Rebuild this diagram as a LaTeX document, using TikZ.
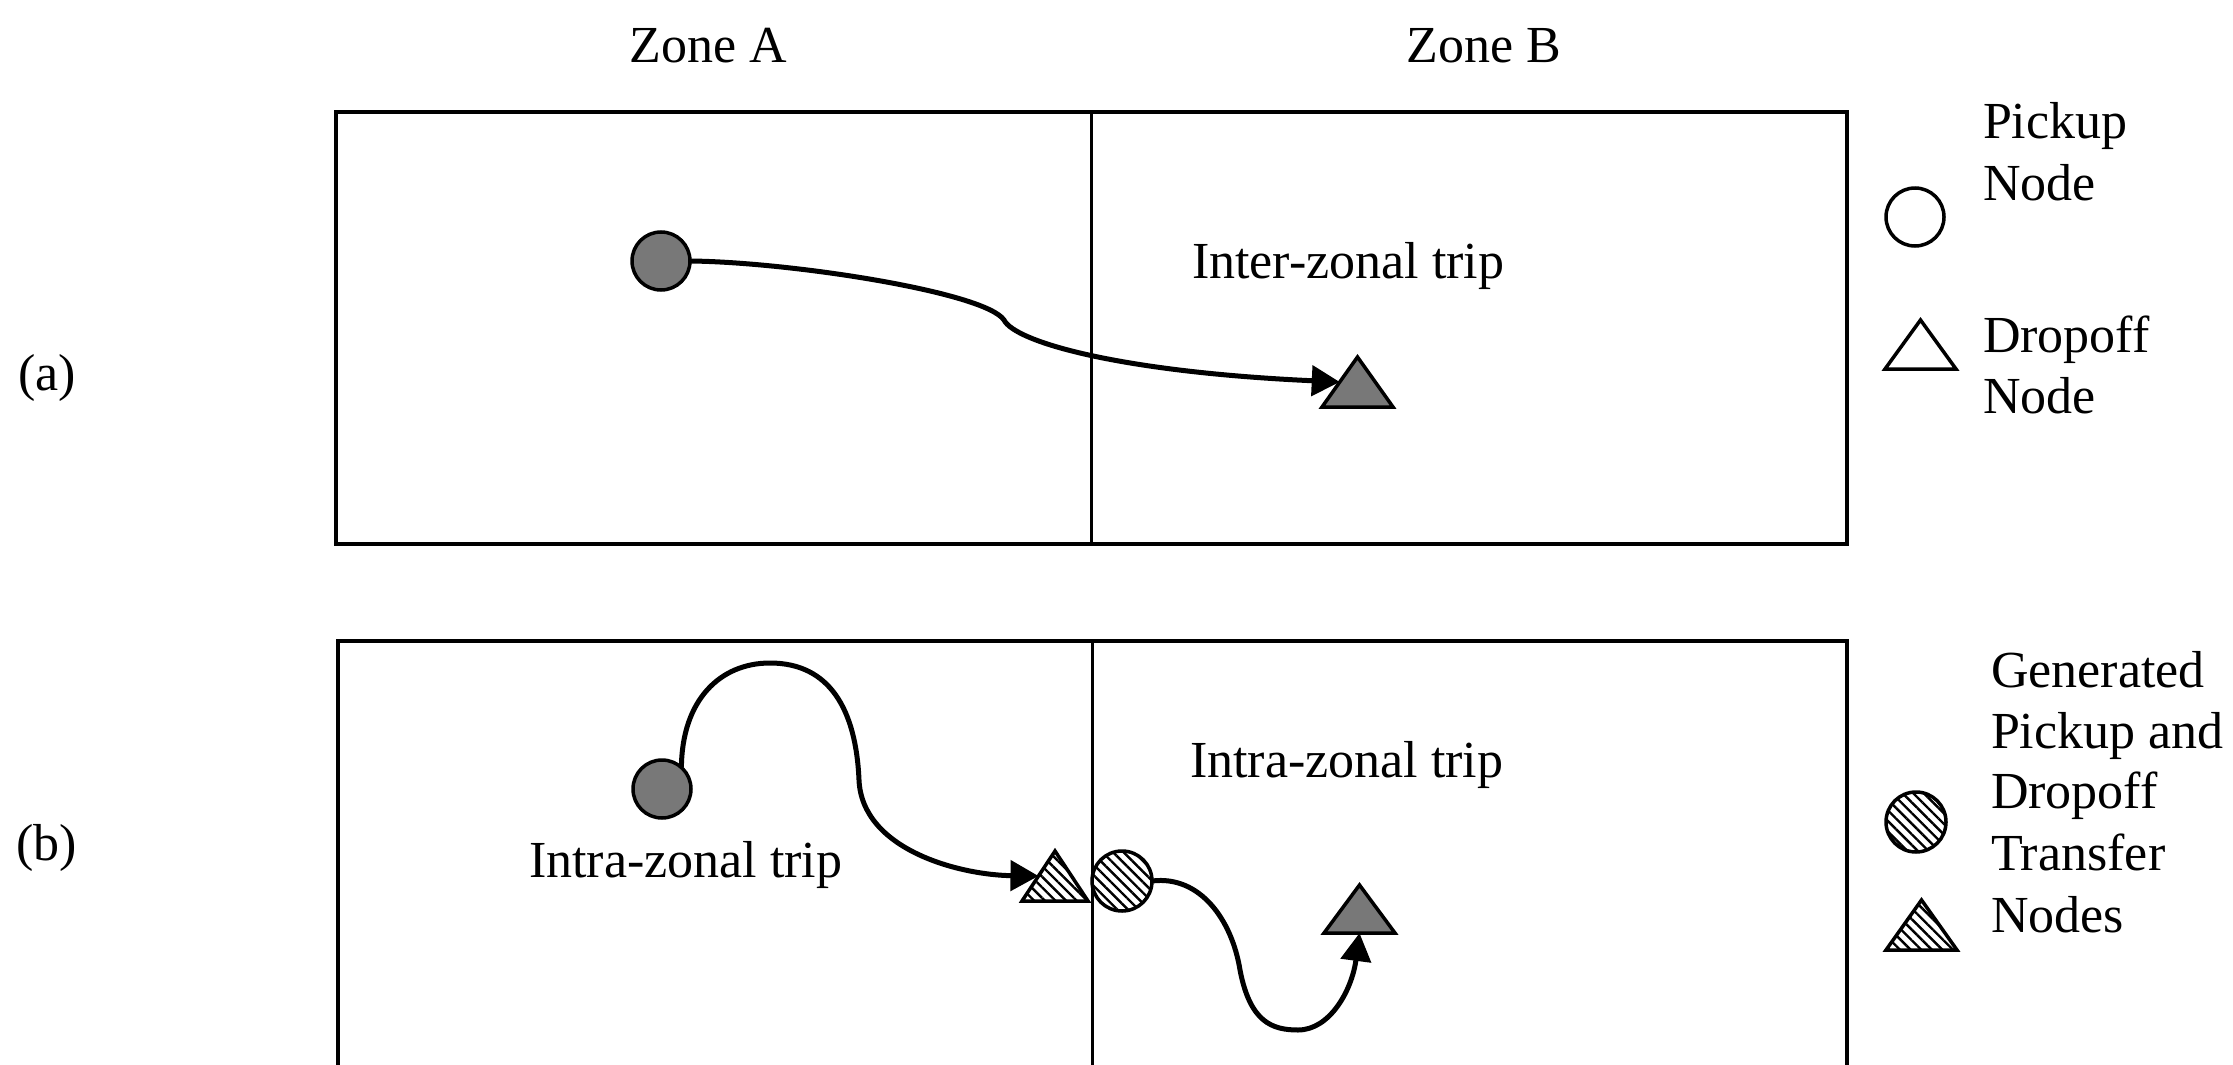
\documentclass[tikz,border=0pt]{standalone}
\usepackage{fontspec}
\setmainfont{Liberation Serif}
\usetikzlibrary{arrows.meta,patterns.meta,calc}
\definecolor{nodegray}{RGB}{120,120,120}
\begin{document}
\begin{tikzpicture}[x=1pt,y=-1pt,
  every node/.style={inner sep=0pt, outer sep=0pt},
  lbl/.style={font=\fontsize{52}{61}\selectfont},
  zonebox/.style={line width=4.5pt},
  divider/.style={line width=3pt},
  pnode/.style={circle, draw, line width=3.5pt, minimum size=58pt},
  tnode/.style={rectangle, minimum width=71pt, minimum height=50pt},
  gfill/.style={fill=nodegray},
  hfill/.style={pattern={Lines[angle=-45,distance=7.5pt,line width=2.4pt]}},
  trip/.style={line width=5pt, -{Triangle[length=28pt,width=30pt]}},
  tri/.style={draw, line width=3.5pt, line join=miter},
]
\useasboundingbox (0,0) rectangle (2233,1065);

% zone boxes
\draw[zonebox] (336,112) rectangle (1847,544);
\draw[divider] (1091,112) -- (1091,544);
\draw[zonebox] (338,1065) -- (338,641) -- (1847,641) -- (1847,1065);
\draw[divider] (1092,641) -- (1092,1065);

% labels
\node[lbl, anchor=base] (za) at (708,63) {Zone A};
\node[lbl, anchor=base] (zb) at (1484,63) {Zone B};
\node[lbl, anchor=base] (la) at (47,390) {(a)};
\node[lbl, anchor=base] (lb) at (47,860) {(b)};
\node[lbl, anchor=base west] (inter) at (1192,278) {Inter-zonal trip};
\node[lbl, anchor=base west] (intraB) at (1190,777) {Intra-zonal trip};
\node[lbl, anchor=base west] (intraA) at (529,877) {Intra-zonal trip};

% (a) nodes
\node[pnode, gfill] (p1) at (661,261) {};
\node[tnode] (d1) at (1357.5,382) {};
\draw[tri, gfill] (d1.south west) -- (d1.north) -- (d1.south east) -- cycle;
\coordinate (d1in) at ($(d1.south west)!0.5!(d1.north)$);
\draw[trip] (p1.east) .. controls (790,262) and (985,292) .. (1004,320)
  .. controls (1015,342) and (1120,372) .. (d1in);

% (b) nodes
\node[pnode, gfill] (p2) at (662,789) {};
\node[tnode, minimum width=66pt] (t1) at (1055,876) {};
\draw[tri, hfill] (t1.south west) -- (t1.north) -- (t1.south east) -- cycle;
\coordinate (t1in) at ($(t1.south west)!0.5!(t1.north)$);
\node[pnode, hfill, minimum size=60pt] (p3) at (1122,881) {};
\node[tnode, minimum height=48pt] (d2) at (1359.5,909) {};
\draw[tri, gfill] (d2.south west) -- (d2.north) -- (d2.south east) -- cycle;

\draw[trip] (p2.48) .. controls (682,700) and (720,663) .. (770,663)
  .. controls (830,663) and (856,710) .. (859,780)
  .. controls (862,850) and (960,875) .. (t1in);
\draw[trip] (p3.east) .. controls (1200,875) and (1232,920) .. (1240,970)
  .. controls (1250,1022) and (1272,1030) .. (1298,1030)
  .. controls (1330,1030) and (1352,990) .. (d2.south);

% legend (a)
\node[pnode] (L1) at (1915,217) {};
\node[tnode, minimum height=49pt] (L2) at (1920.5,344.5) {};
\draw[tri] (L2.south west) -- (L2.north) -- (L2.south east) -- cycle;
\node[lbl, anchor=base west] (tp1) at (1983,138) {Pickup};
\node[lbl, anchor=base west] (tp2) at (1983,200) {Node};
\node[lbl, anchor=base west] (td1) at (1983,352) {Dropoff};
\node[lbl, anchor=base west] (td2) at (1983,413) {Node};

% legend (b)
\node[pnode, hfill, minimum size=60pt] (L3) at (1916,822) {};
\node[tnode] (L4) at (1921.5,925) {};
\draw[tri, hfill] (L4.south west) -- (L4.north) -- (L4.south east) -- cycle;
\node[lbl, anchor=base west] (g1) at (1991,687) {Generated};
\node[lbl, anchor=base west] (g2) at (1991,748) {Pickup and};
\node[lbl, anchor=base west] (g3) at (1991,808) {Dropoff};
\node[lbl, anchor=base west] (g4) at (1991,870) {Transfer};
\node[lbl, anchor=base west] (g5) at (1991,932) {Nodes};
\end{tikzpicture}
\end{document}
